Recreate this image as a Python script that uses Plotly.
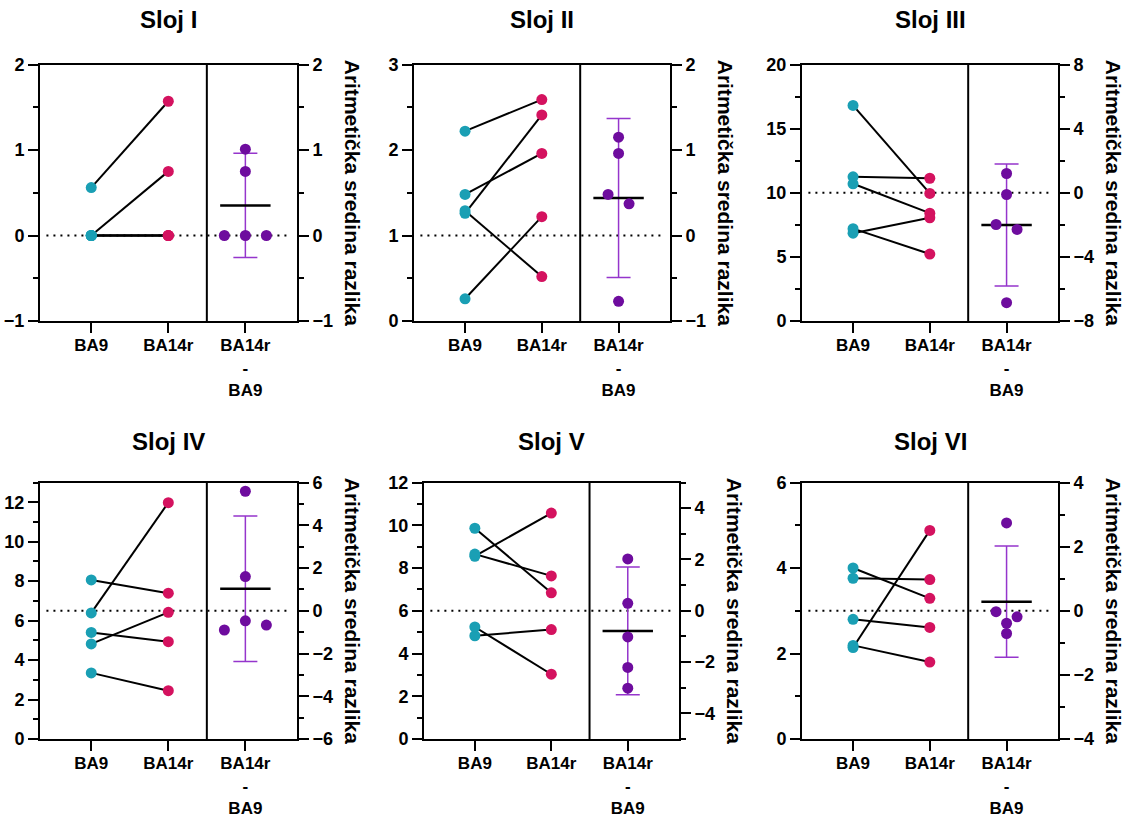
import plotly.graph_objects as go

# ---------------- data ----------------
titles = ["Sloj I", "Sloj II", "Sloj III", "Sloj IV", "Sloj V", "Sloj VI"]
categories = ["BA9", "BA14r", "BA14r<br>-<br>BA9"]

ba9_I = [0.56, 0.0, 0.0, 0.0, 0.0]
ba14r_I = [1.57, 0.75, 0.0, 0.0, 0.0]

ba9_II = [2.22, 1.48, 1.26, 1.29, 0.26]
ba14r_II = [2.59, 1.96, 2.41, 0.52, 1.22]

ba9_III = [16.81, 11.24, 10.70, 6.85, 7.20]
ba14r_III = [9.95, 11.13, 8.41, 8.05, 5.22]

ba9_IV = [8.06, 6.39, 5.40, 4.82, 3.35]
ba14r_IV = [7.39, 11.98, 4.93, 6.42, 2.45]

ba9_V = [9.86, 8.55, 8.65, 4.83, 5.24]
ba14r_V = [6.84, 10.57, 7.63, 5.12, 3.03]

ba9_VI = [4.00, 3.76, 2.80, 2.14, 2.19]
ba14r_VI = [3.29, 3.73, 2.61, 4.88, 1.80]

ba9_all = [ba9_I, ba9_II, ba9_III, ba9_IV, ba9_V, ba9_VI]
ba14r_all = [ba14r_I, ba14r_II, ba14r_III, ba14r_IV, ba14r_V, ba14r_VI]

left_ranges = [(-1, 2), (0, 3), (0, 20), (0, 13), (0, 12), (0, 6)]
left_dtick = [1, 1, 5, 2, 2, 2]
left_minor = [0.5, 0.5, 2.5, 1, 1, 1]
right_ranges = [(-1, 2), (-1, 2), (-8, 8), (-6, 6), (-5, 5), (-4, 4)]
right_dtick = [1, 1, 4, 2, 2, 2]
right_minor = [0.5, 0.5, 2, 1, 1, 1]

right_title = "Aritmetička sredina razlika"
T_975_DF4 = 2.776  # t quantile for 95% CI, n = 5

# ---------------- layout geometry (pixels) ----------------
W, H = 1128, 817
panel_px = [(40, 297, 64.5, 321), (414, 670, 64.5, 321), (802, 1058, 64.5, 321),
            (40, 297, 482.5, 739), (424, 679, 482.5, 739), (802, 1058, 482.5, 739)]
title_y_px = [20, 20, 20, 441, 441, 441]
XRANGE = [-0.665, 2.67]

C_BA9 = "#1a9fb4"
C_BA14 = "#d4125f"
C_DIFF = "#6e0c9e"
C_ERR = "#9535cc"
FONT = "Liberation Sans"


def swarm_offsets(vals, px_per_unit_y, spacing_units, thresh_px=10.0):
    order = sorted(range(len(vals)), key=lambda i: -vals[i])
    rows, cur = [], [order[0]]
    for i in order[1:]:
        if (vals[cur[0]] - vals[i]) * px_per_unit_y < thresh_px:
            cur.append(i)
        else:
            rows.append(cur)
            cur = [i]
    rows.append(cur)
    offs = [0.0] * len(vals)
    for row in rows:
        m = len(row)
        if m % 2 == 1:
            slots = [0]
            for s in range(1, m // 2 + 1):
                slots += [s, -s]
        else:
            slots = []
            for s in range(m // 2):
                slots += [-(s + 0.5), s + 0.5]
        for j, i in enumerate(row):
            offs[i] = slots[j] * spacing_units
    return offs


fig = go.Figure()
layout = dict(
    template="none",
    width=W, height=H, margin=dict(l=0, r=0, t=0, b=0, pad=0, autoexpand=False),
    paper_bgcolor="white", plot_bgcolor="rgba(0,0,0,0)", showlegend=False,
    font=dict(family=FONT, size=16, color="black"),
)
shapes, annotations = [], []

for k in range(6):
    n = k + 1
    xa = "x" if n == 1 else f"x{n}"
    yl_n, yr_n = 2 * n - 1, 2 * n
    yl = "y" if yl_n == 1 else f"y{yl_n}"
    yr = f"y{yr_n}"
    x0, x1, ytop, ybot = panel_px[k]
    dom_x = [x0 / W, x1 / W]
    dom_y = [1 - ybot / H, 1 - ytop / H]
    xtick_font = dict(family=FONT, size=17, color="black", weight="bold")
    ytick_font = dict(family=FONT, size=18, color="black", weight="bold")

    layout["xaxis" if n == 1 else f"xaxis{n}"] = dict(
        domain=dom_x, range=XRANGE, anchor=yl, tickmode="array",
        tickvals=[0, 1, 2], ticktext=categories, ticks="outside", ticklen=10,
        tickwidth=2, tickcolor="black", showline=True, linewidth=2,
        linecolor="black", mirror=True, showgrid=False, zeroline=False,
        tickfont=xtick_font, automargin=False, fixedrange=True,
        ticklabelstandoff=-2,
    )
    layout["yaxis" if yl_n == 1 else f"yaxis{yl_n}"] = dict(
        domain=dom_y, range=list(left_ranges[k]), anchor=xa,
        tick0=0, dtick=left_dtick[k], ticks="outside", ticklen=10, tickwidth=2,
        tickcolor="black", showline=True, linewidth=2, linecolor="black",
        showgrid=False, zeroline=False, tickfont=ytick_font, automargin=False,
        minor=dict(ticks="outside", ticklen=5, tickwidth=2, tickcolor="black",
                   tick0=0, dtick=left_minor[k], showgrid=False),
    )
    layout[f"yaxis{yr_n}"] = dict(
        range=list(right_ranges[k]), anchor=xa, overlaying=yl, side="right",
        tick0=0, dtick=right_dtick[k], ticks="outside", ticklen=10, tickwidth=2,
        tickcolor="black", showline=True, linewidth=2, linecolor="black",
        showgrid=False, zeroline=False, tickfont=ytick_font, automargin=False,
        minor=dict(ticks="outside", ticklen=5, tickwidth=2, tickcolor="black",
                   tick0=0, dtick=right_minor[k], showgrid=False),
    )

    b9, b14 = ba9_all[k], ba14r_all[k]
    diffs = [b - a for a, b in zip(b9, b14)]
    nn = len(diffs)
    mean = sum(diffs) / nn
    sd = (sum((d - mean) ** 2 for d in diffs) / (nn - 1)) ** 0.5
    ci = T_975_DF4 * sd / nn ** 0.5

    shapes.append(dict(type="line", xref=f"{xa} domain", x0=0.025, x1=0.975,
                       yref=yr, y0=0, y1=0, layer="below",
                       line=dict(color="black", width=2, dash="2px,5px")))
    shapes.append(dict(type="line", xref=xa, x0=1.5, x1=1.5,
                       yref=f"{yl} domain", y0=0, y1=1,
                       line=dict(color="black", width=2)))

    lx, ly = [], []
    for a, b in zip(b9, b14):
        lx += [0, 1, None]
        ly += [a, b, None]
    fig.add_trace(go.Scatter(x=lx, y=ly, xaxis=xa, yaxis=yl, mode="lines",
                             line=dict(color="black", width=2), hoverinfo="skip"))
    fig.add_trace(go.Scatter(x=[0] * len(b9), y=b9, xaxis=xa, yaxis=yl, mode="markers",
                             marker=dict(color=C_BA9, size=11, line=dict(width=0))))
    fig.add_trace(go.Scatter(x=[1] * len(b14), y=b14, xaxis=xa, yaxis=yl, mode="markers",
                             marker=dict(color=C_BA14, size=11, line=dict(width=0))))

    fig.add_trace(go.Scatter(
        x=[2], y=[mean], xaxis=xa, yaxis=yr, mode="markers",
        marker=dict(symbol="line-ew", size=36, color="black",
                    line=dict(color="black", width=2.5)),
        error_y=dict(type="data", array=[ci], symmetric=True, color=C_ERR,
                     thickness=1.5, width=12)))

    px_y = (ybot - ytop) / (right_ranges[k][1] - right_ranges[k][0])
    px_x = (x1 - x0) / (XRANGE[1] - XRANGE[0])
    offs = swarm_offsets(diffs, px_y, 21.0 / px_x)
    fig.add_trace(go.Scatter(x=[2 + o for o in offs], y=diffs, xaxis=xa, yaxis=yr,
                             mode="markers",
                             marker=dict(color=C_DIFF, size=11, line=dict(width=0))))

    annotations.append(dict(text=titles[k], xref="paper", yref="paper",
                            x=(x0 + x1) / 2 / W, y=1 - title_y_px[k] / H,
                            xanchor="center", yanchor="middle", showarrow=False,
                            font=dict(family=FONT, size=24, color="black", weight="bold")))
    annotations.append(dict(text=right_title, xref="paper", yref="paper",
                            x=(x1 + 55) / W, y=1 - (ytop + ybot) / 2 / H,
                            xanchor="center", yanchor="middle", textangle=90,
                            showarrow=False,
                            font=dict(family=FONT, size=21, color="black", weight="bold")))

layout["shapes"] = shapes
layout["annotations"] = annotations
fig.update_layout(**layout)
fig.write_html("out.html", config={"displayModeBar": False},
               post_script="document.body.style.margin='0px';")
